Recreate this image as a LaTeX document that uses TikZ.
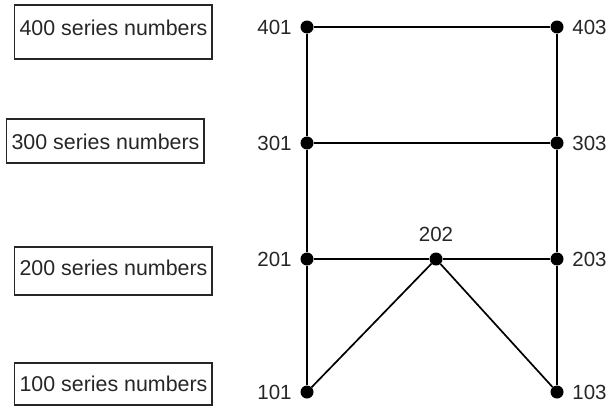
\documentclass[tikz,border=0pt]{standalone}
\usepackage{fontspec}
\setmainfont{Liberation Sans}
\usepackage{tikz}
\usetikzlibrary{positioning}

\begin{document}
\begin{tikzpicture}[x=1pt, y=-1pt,
  font=\fontsize{20.5}{24}\selectfont,
  dot/.style={circle, fill=black, inner sep=0pt, minimum size=13pt},
  member/.style={line width=1.7pt},
  serieslabel/.style={inner sep=0pt, text=black!85, font=\fontsize{21.4}{25}\selectfont},
  boxline/.style={line width=1.3pt, black!85},
  every label/.style={inner sep=0pt, text=black!85},
  label distance=8.5pt]
\useasboundingbox (0,0) rectangle (612,407);

% series boxes
\draw[boxline] (14.5,5) rectangle (212,59);
\node[serieslabel] (s400) at (113.5,28) {400 series numbers};
\draw[boxline] (6.7,119) rectangle (204,163);
\node[serieslabel] (s300) at (105.5,142) {300 series numbers};
\draw[boxline] (14.5,247) rectangle (212,295);
\node[serieslabel] (s200) at (113.5,268) {200 series numbers};
\draw[boxline] (14.5,363) rectangle (212,405);
\node[serieslabel] (s100) at (113.5,384) {100 series numbers};

% joints
\node[dot, label=left:401] (n401) at (307,27) {};
\node[dot, label=right:403] (n403) at (557,27) {};
\node[dot, label=left:301] (n301) at (307,143) {};
\node[dot, label=right:303] (n303) at (557,143) {};
\node[dot, label=left:201] (n201) at (307,259) {};
\node[dot, label={[label distance=10pt]above:202}] (n202) at (436,259) {};
\node[dot, label=right:203] (n203) at (557,259) {};
\node[dot, label=left:101] (n101) at (307,392) {};
\node[dot, label=right:103] (n103) at (557,392) {};

% members
\draw[member] (n401) -- (n403);
\draw[member] (n301) -- (n303);
\draw[member] (n201) -- (n202) -- (n203);
\draw[member] (n101) -- (n201) -- (n301) -- (n401);
\draw[member] (n103) -- (n203) -- (n303) -- (n403);
\draw[member] (n101) -- (n202) -- (n103);
\end{tikzpicture}
\end{document}
